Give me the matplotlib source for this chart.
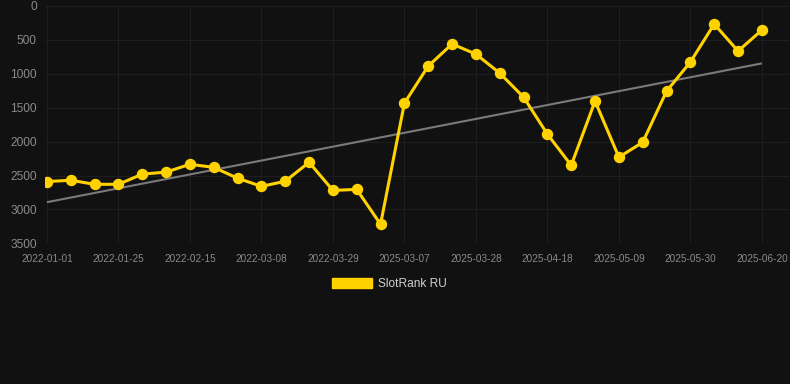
import matplotlib
matplotlib.use("Agg")
import matplotlib.pyplot as plt
from matplotlib.patches import Patch
import numpy as np

dates = ["2022-01-01", "2022-01-09", "2022-01-17", "2022-01-25", "2022-02-01",
         "2022-02-08", "2022-02-15", "2022-02-22", "2022-03-01", "2022-03-08",
         "2022-03-15", "2022-03-22", "2022-03-29", "2022-04-05", "2025-02-28",
         "2025-03-07", "2025-03-14", "2025-03-21", "2025-03-28", "2025-04-04",
         "2025-04-11", "2025-04-18", "2025-04-25", "2025-05-02", "2025-05-09",
         "2025-05-16", "2025-05-23", "2025-05-30", "2025-06-06", "2025-06-13",
         "2025-06-20"]
rank = [2590, 2570, 2630, 2630, 2480, 2450, 2335, 2380, 2540, 2660,
        2585, 2305, 2720, 2705, 3220, 1433, 886, 561, 709, 990,
        1344, 1890, 2350, 1403, 2230, 2010, 1256, 827, 266, 665, 355]
series_name = "SlotRank RU"
yticks = [0, 500, 1000, 1500, 2000, 2500, 3000, 3500]

plt.rcParams['font.family'] = ['Liberation Sans', 'DejaVu Sans']
BG = "#111111"
YEL = "#FFD200"

fig = plt.figure(figsize=(7.9, 3.84), dpi=100, facecolor=BG)
ax = fig.add_axes([45/790, 1 - 243.3/384, 745/790, (243.3 - 6)/384])
ax.set_facecolor(BG)

x = np.arange(len(rank))
coef = np.polyfit(x, rank, 1)
trend = np.polyval(coef, x)
ax.plot(x, trend, color="#7a7a7a", lw=1.5, zorder=2, solid_capstyle="butt")
ax.plot(x, rank, color=YEL, lw=2.2, marker="o", ms=7.2, zorder=3)

ax.set_ylim(3500, 0)
ax.set_xlim(-0.08, 31.18)
ax.set_yticks(yticks)
ax.set_yticklabels([str(v) for v in yticks])
tick_idx = list(range(0, len(dates), 3))
ax.set_xticks(tick_idx)
ax.set_xticklabels([dates[i] for i in tick_idx])

ax.grid(True, color="#1e1e1e", lw=0.8)
ax.set_axisbelow(True)
for s in ax.spines.values():
    s.set_visible(False)
ax.tick_params(axis="y", length=0, pad=6, labelsize=8.6, labelcolor="#8a8a8a")
ax.tick_params(axis="x", length=0, pad=8, labelsize=7.2, labelcolor="#8a8a8a")

handle = Patch(facecolor=YEL, edgecolor=YEL)
fig.legend([handle], [series_name], loc="center", bbox_to_anchor=(389.5/790, 1 - 284/384),
           frameon=False, fontsize=8.6, labelcolor="#d0d0d0",
           handlelength=3.35, handleheight=0.95, handletextpad=0.45)

fig.savefig("out.png", dpi=100, facecolor=BG)
